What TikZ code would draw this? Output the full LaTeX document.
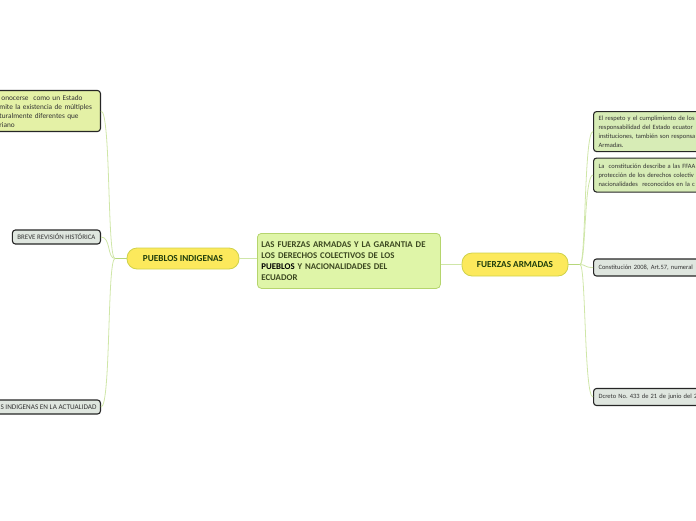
\documentclass[tikz,border=0pt]{standalone}
\usepackage{fontspec}
\setmainfont{Carlito}
\usepackage{xcolor}
\definecolor{topicfill}{HTML}{DFF5A8}
\definecolor{topicline}{HTML}{B5D56D}
\definecolor{topictext}{HTML}{3B4720}
\definecolor{pillfill}{HTML}{FCE95C}
\definecolor{pillline}{HTML}{CFD24A}
\definecolor{pilltext}{HTML}{1F3D0C}
\definecolor{leafline}{HTML}{262626}
\definecolor{leafgreen}{HTML}{D7ECB6}
\definecolor{leaflime}{HTML}{E4F1A6}
\definecolor{leafgrey}{HTML}{DFE6DF}
\definecolor{twigcolor}{HTML}{CFE6A8}
\definecolor{stemcolor}{HTML}{B6D77A}
\frenchspacing

\begin{document}
\begin{tikzpicture}[
    x = 1pt, y = -1pt,
    topic/.style      = {draw=topicline, fill=topicfill, line width=0.8pt,
                         rounded corners=4pt, text=topictext, align=left,
                         font=\fontsize{8.8}{11}\selectfont\bfseries,
                         inner sep=4pt, text width=175pt, minimum height=55pt},
    pill/.style       = {draw=pillline, fill=pillfill, line width=0.8pt,
                         rounded corners=10pt, text=pilltext,
                         font=\fontsize{9.2}{10}\selectfont\bfseries},
    leaf/.style       = {draw=leafline, line width=1.1pt, rounded corners=3pt,
                         text=black!80, align=left, inner xsep=5pt,
                         font=\fontsize{6.5}{9}\selectfont},
    twig/.style       = {draw=twigcolor, line width=0.8pt},
    stem/.style       = {draw=stemcolor, line width=1.6pt}
  ]
\useasboundingbox (0,0) rectangle (696,520);
\clip (0,0) rectangle (696,520);

% central topic
\node[topic, anchor=north west] (root) at (257,233)
  {LAS FUERZAS ARMADAS Y LA GARANTIA DE\\
   LOS DERECHOS COLECTIVOS DE LOS\\
   \textcolor{black}{PUEBLOS} Y NACIONALIDADES DEL\\
   ECUADOR};

% main branches
\node[pill, minimum width=112pt, minimum height=21pt] (pueblos) at (183,258.5) {PUEBLOS INDIGENAS};
\node[pill, minimum width=106pt, minimum height=23pt] (fuerzas) at (515,264.5) {FUERZAS ARMADAS};

\coordinate (lj) at (115,258.5);
\coordinate (rj) at (580,264.5);

% left leaves
\node[leaf, fill=leaflime, anchor=east, text width=97pt, inner xsep=4pt, minimum height=41pt,
      font=\fontsize{7.3}{9}\selectfont] (estado) at (101,111)
  {\hspace*{2pt}onocerse\ \ como un Estado\\
   mite la existencia de múltiples\\
   turalmente diferentes que\\
   riano};
\node[leaf, fill=leafgrey, anchor=east, minimum height=14pt, inner xsep=5pt,
      font=\fontsize{6.9}{9}\selectfont] (historia) at (101,237)
  {BREVE REVISIÓN HISTÓRICA};
\node[leaf, fill=leafgrey, anchor=east, minimum height=14pt, inner xsep=4pt,
      font=\fontsize{7.2}{9}\selectfont] (actual) at (101,407)
  {\hspace*{6pt}S INDIGENAS EN LA ACTUALIDAD};

% right leaves
\node[leaf, fill=leafgreen, anchor=north west, text width=140pt, minimum height=40pt] (respeto) at (593,111)
  {El respeto y el cumplimiento de los\\
   responsabilidad del Estado ecuator\\
   instituciones, también son responsa\\
   Armadas.};
\node[leaf, fill=leafgreen, anchor=north west, text width=140pt, minimum height=34pt] (constit) at (593,157.5)
  {La\ \ constitución describe a las FFAA\\
   protección de los derechos colectiv\\
   nacionalidades\ \ reconocidos en la c};
\node[leaf, fill=leafgrey, anchor=west, text width=140pt, minimum height=17pt] (art) at (593,267.5)
  {Constitución 2008, Art.57, numeral};
\node[leaf, fill=leafgrey, anchor=west, text width=140pt, minimum height=17pt] (decreto) at (593,397)
  {Dcreto No. 433 de 21 de junio del 2};

% connectors
\draw[twig] (root.west |- pueblos) -- (pueblos.east);
\draw[twig] (root.east |- fuerzas) -- (fuerzas.west);
\draw[stem] (pueblos.west) -- (lj);
\draw[stem] (fuerzas.east) -- (rj);
\foreach \leafname in {estado, historia, actual}
  \draw[twig] (lj) .. controls +(-8,0) and +(10,0) .. (\leafname.east);
\foreach \leafname in {respeto, constit, art, decreto}
  \draw[twig] (rj) .. controls +(6,0) and +(-9,0) .. (\leafname.west);
\end{tikzpicture}
\end{document}
